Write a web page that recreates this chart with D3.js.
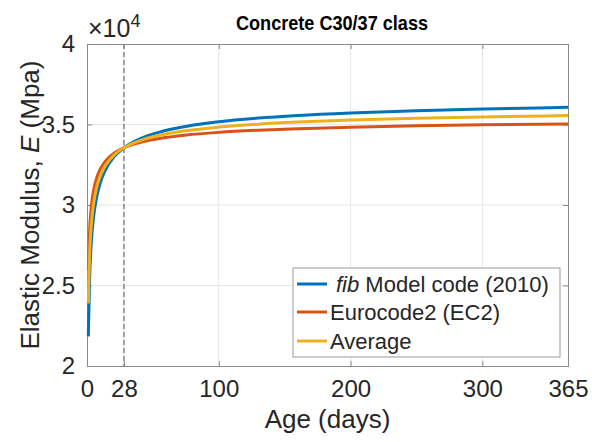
<!DOCTYPE html>
<html>
<head>
<meta charset="utf-8">
<script src="https://cdn.jsdelivr.net/npm/d3@7"></script>
<style>
  html, body { margin: 0; padding: 0; background: #fff; }
  svg { display: block; font-family: "Liberation Sans", Arial, sans-serif; }
</style>
</head>
<body>
<svg id="chart" width="592" height="442"></svg>
<script>
// Age of concrete in days
const ageDays = [1, 2, 3, 4, 5, 7, 10, 14, 21, 28, 40, 56, 75, 100, 130, 160, 200, 250, 300, 365];
// Elastic modulus E (MPa), fib Model Code 2010
const fibMC2010 = [21842, 25505, 27316, 28457, 29266, 30357, 31366, 32188, 33035, 33550,
                   34102, 34547, 34881, 35167, 35397, 35560, 35717, 35858, 35963, 36066];
// Elastic modulus E (MPa), Eurocode 2
const eurocode2 = [25934, 28460, 29658, 30396, 30910, 31597, 32222, 32726, 33240, 33550,
                   33880, 34145, 34342, 34511, 34646, 34742, 34834, 34916, 34978, 35037];
// Elastic modulus E (MPa), average of the two codes
const averageE  = [23888, 26983, 28487, 29427, 30088, 30977, 31794, 32457, 33138, 33550,
                   33991, 34346, 34612, 34839, 35022, 35151, 35276, 35387, 35471, 35552];

const xTicks = [0, 28, 100, 200, 300, 365];
const yTicks = [20000, 25000, 30000, 35000, 40000];
const yTickLabels = ["2", "2.5", "3", "3.5", "4"];
const refAge = 28;

const seriesNames = ["fib Model code (2010)", "Eurocode2 (EC2)", "Average"];
const seriesColors = ["#0072BD", "#D95319", "#EDB120"];
const seriesValues = [fibMC2010, eurocode2, averageE];

const svg = d3.select("#chart");
const plot = { left: 87, right: 568, top: 44, bottom: 366 };
const textColor = "#262626";
const axisColor = "#8a8a8a";

const x = d3.scaleLinear().domain([0, 365]).range([plot.left, plot.right]);
const y = d3.scaleLinear().domain([20000, 40000]).range([plot.bottom, plot.top]);

// grid
const grid = svg.append("g");
grid.selectAll("line.gx").data(xTicks.filter(d => d > 0 && d < 365)).join("line")
  .attr("x1", d => x(d)).attr("x2", d => x(d))
  .attr("y1", plot.top).attr("y2", plot.bottom)
  .attr("stroke", "#e6e6e6").attr("stroke-width", 1);
grid.selectAll("line.gy").data(yTicks.filter(d => d > 20000 && d < 40000)).join("line")
  .attr("x1", plot.left).attr("x2", plot.right)
  .attr("y1", d => y(d)).attr("y2", d => y(d))
  .attr("stroke", "#e6e6e6").attr("stroke-width", 1);

// axes with inward ticks on all four sides
const bottomAxis = d3.axisBottom(x).tickValues(xTicks).tickSize(-5).tickPadding(14).tickFormat(d => String(d));
const topAxis = d3.axisTop(x).tickValues(xTicks).tickSize(-5).tickFormat("");
const leftAxis = d3.axisLeft(y).tickValues(yTicks).tickSize(-5).tickPadding(12)
  .tickFormat((d, i) => yTickLabels[i]);
const rightAxis = d3.axisRight(y).tickValues(yTicks).tickSize(-5).tickFormat("");

function styleAxis(g) {
  g.select(".domain").attr("stroke", axisColor).attr("stroke-width", 1);
  g.selectAll(".tick line").attr("stroke", axisColor);
  g.selectAll(".tick text").attr("fill", textColor).attr("font-size", 24)
    .attr("font-family", "Liberation Sans, Arial, sans-serif");
}
svg.append("g").attr("transform", `translate(0,${plot.bottom})`).call(bottomAxis).call(styleAxis);
svg.append("g").attr("transform", `translate(0,${plot.top})`).call(topAxis).call(styleAxis);
svg.append("g").attr("transform", `translate(${plot.left},0)`).call(leftAxis).call(styleAxis);
svg.append("g").attr("transform", `translate(${plot.right},0)`).call(rightAxis).call(styleAxis);

// dashed reference at 28 days
svg.append("line")
  .attr("x1", x(refAge)).attr("x2", x(refAge))
  .attr("y1", plot.top).attr("y2", plot.bottom)
  .attr("stroke", "#8c8c8c").attr("stroke-width", 1.6)
  .attr("stroke-dasharray", "5,3");

// curves
const line = d3.line().curve(d3.curveMonotoneX);
const curves = svg.append("g");
seriesValues.forEach((vals, i) => {
  curves.append("path")
    .attr("d", line(ageDays.map((t, k) => [x(t), y(vals[k])])))
    .attr("fill", "none")
    .attr("stroke", seriesColors[i])
    .attr("stroke-width", 3)
    .attr("stroke-linejoin", "round");
});

// title
svg.append("text")
  .attr("x", 332).attr("y", 30)
  .attr("text-anchor", "middle")
  .attr("font-size", 21).attr("font-weight", "bold")
  .attr("textLength", 192).attr("lengthAdjust", "spacingAndGlyphs")
  .attr("fill", "#000")
  .text("Concrete C30/37 class");

// exponent label
const expo = svg.append("text").attr("x", 88).attr("y", 37).attr("fill", textColor).attr("font-size", 25);
expo.append("tspan").text("\u00d710");
expo.append("tspan").attr("dy", -10).attr("font-size", 18).text("4");

// axis labels
svg.append("text")
  .attr("x", (plot.left + plot.right) / 2).attr("y", 428)
  .attr("text-anchor", "middle").attr("font-size", 26).attr("fill", textColor)
  .text("Age (days)");

const yl = svg.append("text")
  .attr("transform", `translate(39,${(plot.top + plot.bottom) / 2}) rotate(-90)`)
  .attr("text-anchor", "middle").attr("font-size", 26).attr("fill", textColor);
yl.append("tspan").text("Elastic Modulus, ");
yl.append("tspan").attr("font-style", "italic").text("E");
yl.append("tspan").text(" (Mpa)");

// legend
const legend = svg.append("g");
legend.append("rect")
  .attr("x", 293).attr("y", 268).attr("width", 267).attr("height", 89)
  .attr("fill", "#fff").attr("stroke", "#9a9a9a").attr("stroke-width", 1);
const rowY = [284, 312, 341];
seriesNames.forEach((name, i) => {
  legend.append("line")
    .attr("x1", 297).attr("x2", 327).attr("y1", rowY[i]).attr("y2", rowY[i])
    .attr("stroke", seriesColors[i]).attr("stroke-width", 3);
  const t = legend.append("text")
    .attr("x", 330).attr("y", rowY[i]).attr("dy", "0.35em")
    .attr("font-size", 22).attr("fill", textColor);
  if (i === 0) {
    t.attr("x", 336);
    t.append("tspan").attr("font-style", "italic").text("fib");
    t.append("tspan").text(" Model code (2010)");
  } else {
    t.text(name);
  }
});
</script>
</body>
</html>
